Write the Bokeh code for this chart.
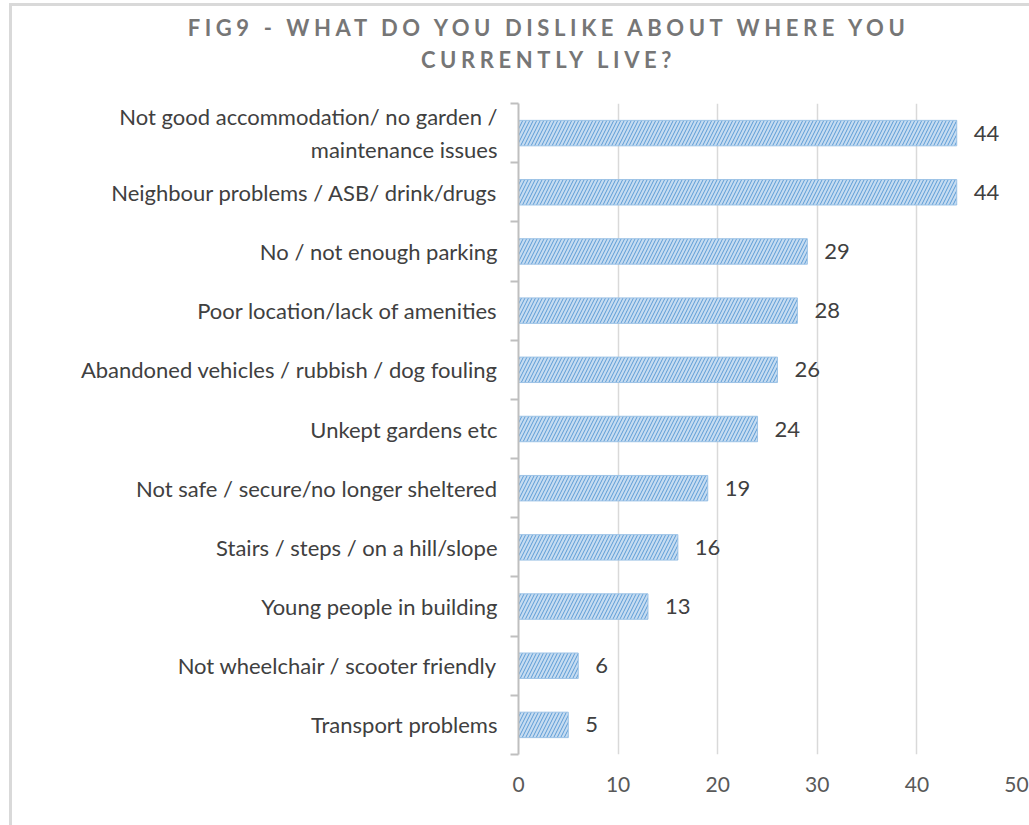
from bokeh.plotting import figure
from bokeh.layouts import column
from bokeh.models import FixedTicker, Range1d, ColumnDataSource, Div
from bokeh.core.properties import value
from bokeh.embed import file_html
from bokeh.resources import INLINE

categories = [
    "Not good accommodation/ no garden /\nmaintenance issues",
    "Neighbour problems / ASB/ drink/drugs",
    "No / not enough parking",
    "Poor location/lack of amenities",
    "Abandoned vehicles / rubbish / dog fouling",
    "Unkept gardens etc",
    "Not safe / secure/no longer sheltered",
    "Stairs / steps / on a hill/slope",
    "Young people in building",
    "Not wheelchair / scooter friendly",
    "Transport problems",
]
values = [44, 44, 29, 28, 26, 24, 19, 16, 13, 6, 5]
x_ticks = [0, 10, 20, 30, 40, 50]
title_lines = ["FIG9 - WHAT DO YOU DISLIKE ABOUT WHERE YOU", "CURRENTLY LIVE?"]

FONT = "Lato"
n = len(categories)
pos = list(range(n))
src = ColumnDataSource(dict(y=pos, value=values, label=[str(v) for v in values]))

title_div = Div(
    text="<br>".join(title_lines),
    width=1017, height=77,
    styles={
        "text-align": "center",
        "padding-left": "46px",
        "padding-top": "1px",
        "box-sizing": "border-box",
        "font-family": "Lato",
        "font-weight": "bold",
        "font-size": "22px",
        "letter-spacing": "4.6px",
        "line-height": "32px",
        "color": "#767676",
        "width": "1017px",
    },
)

p = figure(width=1017, height=742, output_backend="svg", toolbar_location=None,
           x_range=Range1d(0, 50), y_range=Range1d(n - 0.5, -0.5),
           min_border_left=506, min_border_right=13, min_border_top=10,
           min_border_bottom=81)
p.outline_line_color = None
p.background_fill_color = "white"
p.border_fill_color = "white"

p.hbar(y="y", right="value", left=0, height=0.43, source=src,
       fill_color="#c6dcf1", line_color="#9dc3e6", line_width=1,
       hatch_pattern="/", hatch_color="#5b9bd5", hatch_scale=7, hatch_weight=1)
p.text(x="value", y="y", text="label", source=src, x_offset=17,
       text_baseline="middle", text_align="left", text_font=value(FONT),
       text_font_size="22px", text_color="#404040")

# y axis
ya = p.yaxis[0]
ya.ticker = FixedTicker(ticks=pos, minor_ticks=[i - 0.5 for i in range(n + 1)])
ya.major_label_overrides = {i: c for i, c in enumerate(categories)}
ya.major_tick_line_color = None
ya.major_tick_out = 0
ya.major_tick_in = 0
ya.minor_tick_out = 8
ya.minor_tick_in = 0
ya.minor_tick_line_color = "#bfbfbf"
ya.minor_tick_line_width = 2
ya.axis_line_color = "#bfbfbf"
ya.axis_line_width = 2
ya.major_label_standoff = 13
ya.major_label_text_font = FONT
ya.major_label_text_font_size = "22px"
ya.major_label_text_color = "#404040"

# x axis
xa = p.xaxis[0]
xa.ticker = FixedTicker(ticks=x_ticks)
xa.axis_line_color = None
xa.major_tick_line_color = None
xa.minor_tick_line_color = None
xa.major_tick_out = 0
xa.major_label_standoff = 22
xa.major_label_text_font = FONT
xa.major_label_text_font_size = "21px"
xa.major_label_text_color = "#595959"

p.ygrid.grid_line_color = None
p.xgrid.ticker = FixedTicker(ticks=x_ticks)
p.xgrid.grid_line_color = "#d9d9d9"
p.xgrid.grid_line_width = 1.5

layout = column(
    title_div, p, spacing=0,
    styles={
        "border-left": "3px solid #d9d9d9",
        "border-top": "3px solid #d9d9d9",
        "margin-left": "9px",
        "margin-top": "3px",
        "background-color": "white",
    },
)

open("out.html", "w").write(file_html(layout, INLINE))
